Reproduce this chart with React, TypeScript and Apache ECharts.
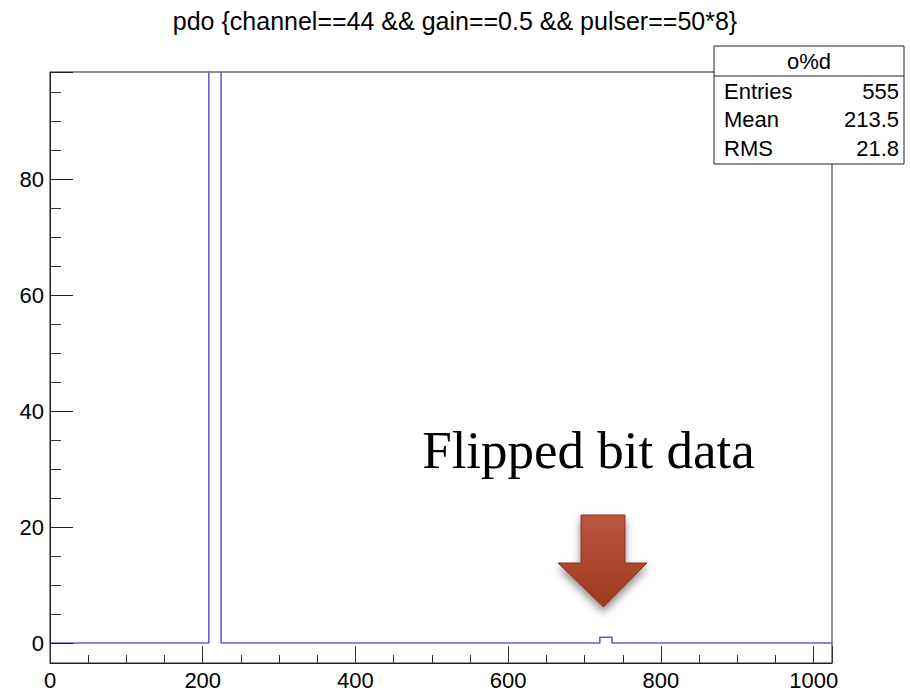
import React, { useEffect, useRef } from "react";
import * as echarts from "echarts";

// ---- data ----
const titleText = "pdo {channel==44 && gain==0.5 && pulser==50*8}";
const binWidth = 16;
const xMin = 0;
const xMax = 1024;
// 64 bins of width 16 over [0, 1024)
const counts: number[] = [
  0, 0, 0, 0, 0, 0, 0, 0, 0, 0, 0, 0, 0, 554, 0, 0,
  0, 0, 0, 0, 0, 0, 0, 0, 0, 0, 0, 0, 0, 0, 0, 0,
  0, 0, 0, 0, 0, 0, 0, 0, 0, 0, 0, 0, 0, 1, 0, 0,
  0, 0, 0, 0, 0, 0, 0, 0, 0, 0, 0, 0, 0, 0, 0, 0,
];
const yMin = -3.45;
const yMax = 98.5;
const xTickLabels = [0, 200, 400, 600, 800, 1000];
const yTickLabels = [0, 20, 40, 60, 80];
const statsTitle = "o%d";
const statsNames = ["Entries", "Mean", "RMS"];
const statsValues = ["555", "213.5", "21.8"];
const annotationText = "Flipped bit data";

const SANS = "'Liberation Sans', Arial, Helvetica, sans-serif";
const SERIF = "'Liberation Serif', 'Times New Roman', serif";

export default function App() {
  const ref = useRef<HTMLDivElement>(null);

  useEffect(() => {
    if (!ref.current) return;
    const chart = echarts.init(ref.current, undefined, { renderer: "svg" });

    const histData: [number, number][] = counts.map((c, i) => [xMin + i * binWidth, c]);
    histData.push([xMax, counts[counts.length - 1]]);

    const boxL = 714, boxR = 904, boxT = 46, boxB = 164, sep = 76;
    const rowY = [91, 119.5, 148];

    const statsGraphics: any[] = [
      {
        type: "rect",
        shape: { x: boxL, y: boxT, width: boxR - boxL, height: boxB - boxT },
        style: { fill: "#fff", stroke: "#222", lineWidth: 1 },
        z: 10,
      },
      {
        type: "line",
        shape: { x1: boxL, y1: sep, x2: boxR, y2: sep },
        style: { stroke: "#222", lineWidth: 1 },
        z: 11,
      },
      {
        type: "text",
        x: (boxL + boxR) / 2,
        y: 61,
        style: {
          text: statsTitle,
          fontSize: 22,
          fontFamily: SANS,
          fill: "#000",
          align: "center",
          verticalAlign: "middle",
        },
        z: 11,
      },
    ];
    statsNames.forEach((n, i) => {
      statsGraphics.push({
        type: "text",
        x: 724,
        y: rowY[i],
        style: { text: n, fontSize: 22, fontFamily: SANS, fill: "#000", align: "left", verticalAlign: "middle" },
        z: 11,
      });
      statsGraphics.push({
        type: "text",
        x: 899,
        y: rowY[i],
        style: { text: statsValues[i], fontSize: 22, fontFamily: SANS, fill: "#000", align: "right", verticalAlign: "middle" },
        z: 11,
      });
    });

    const arrow = {
      type: "polygon",
      shape: {
        points: [
          [581, 515],
          [625, 515],
          [625, 563],
          [647, 563],
          [603.5, 607],
          [558, 563],
          [581, 563],
        ],
      },
      style: {
        fill: {
          type: "linear",
          x: 0,
          y: 0,
          x2: 0,
          y2: 1,
          colorStops: [
            { offset: 0, color: "#bd5640" },
            { offset: 1, color: "#9d3920" },
          ],
        },
        stroke: "#8a3420",
        lineWidth: 1,
        shadowBlur: 8,
        shadowOffsetY: 5,
        shadowColor: "rgba(0,0,0,0.45)",
      },
      z: 10,
    };

    const option: any = {
      animation: false,
      backgroundColor: "#fff",
      title: {
        text: titleText,
        left: "center",
        top: 3,
        textStyle: { fontSize: 25, fontWeight: "normal", color: "#000", fontFamily: SANS },
      },
      grid: {
        left: 50,
        right: 78,
        top: 72,
        bottom: 28,
        show: true,
        borderColor: "#222",
        borderWidth: 1,
        backgroundColor: "transparent",
      },
      xAxis: {
        type: "value",
        min: xMin,
        max: xMax,
        interval: 200,
        z: 3,
        axisLine: { show: true, onZero: false, lineStyle: { color: "#222", width: 1 } },
        axisTick: { show: true, inside: true, length: 17, lineStyle: { color: "#333", width: 1 } },
        minorTick: { show: true, splitNumber: 4, length: 8, lineStyle: { color: "#333", width: 1 } },
        splitLine: { show: false },
        minorSplitLine: { show: false },
        axisLabel: {
          show: true,
          margin: 6,
          fontSize: 22,
          color: "#000",
          fontFamily: SANS,
          showMinLabel: true,
          showMaxLabel: true,
          formatter: (v: number) => (xTickLabels.includes(v) ? String(v) : ""),
        },
      },
      yAxis: {
        type: "value",
        min: yMin,
        max: yMax,
        splitNumber: 5,
        z: 3,
        axisLine: { show: true, onZero: false, lineStyle: { color: "#222", width: 1 } },
        axisTick: { show: true, inside: true, length: 23, lineStyle: { color: "#222", width: 1 } },
        minorTick: { show: true, splitNumber: 4, length: 11, lineStyle: { color: "#333", width: 1 } },
        splitLine: { show: false },
        minorSplitLine: { show: false },
        axisLabel: {
          show: true,
          margin: 6,
          fontSize: 22,
          color: "#000",
          fontFamily: SANS,
          formatter: (v: number) => (yTickLabels.includes(v) ? String(v) : ""),
        },
      },
      series: [
        {
          type: "line",
          data: histData,
          step: "end",
          showSymbol: false,
          symbol: "none",
          clip: true,
          lineStyle: { color: "#6a5cd0", width: 1.6 },
          z: 2,
        },
      ],
      graphic: [
        ...statsGraphics,
        arrow,
        {
          type: "text",
          x: 588.5,
          y: 450,
          style: {
            text: annotationText,
            fontSize: 53,
            fontFamily: SERIF,
            fill: "#000",
            align: "center",
            verticalAlign: "middle",
          },
          z: 10,
        },
      ],
    };

    chart.setOption(option);
    return () => chart.dispose();
  }, []);

  return (
    <div
      ref={ref}
      style={{ position: "fixed", left: 0, top: 0, width: 910, height: 691, background: "#fff" }}
    />
  );
}
